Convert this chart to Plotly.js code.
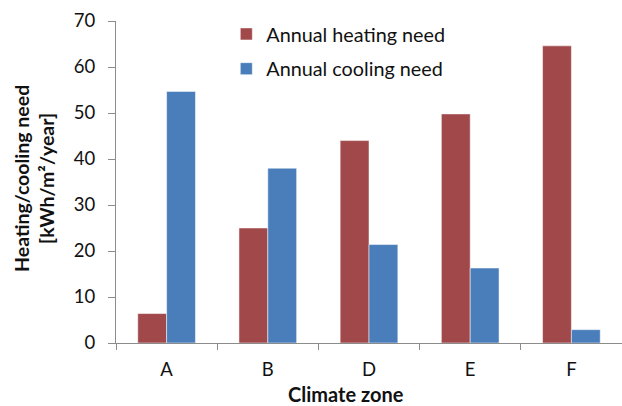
<!DOCTYPE html>
<html><head><meta charset="utf-8">
<script src="https://cdn.plot.ly/plotly-3.0.1.min.js"></script>
<style>html,body{margin:0;padding:0;background:#fff}#chart{width:622px;height:406px}</style>
</head><body><div id="chart"></div>
<script>
const zones = ["A", "B", "D", "E", "F"];
const heatingNeed = [6.4, 25.0, 44.0, 49.8, 64.6];
const coolingNeed = [54.7, 38.0, 21.4, 16.3, 2.9];
const yTicks = [0, 10, 20, 30, 40, 50, 60, 70];
const xTitle = "Climate zone";
const yTitle = "Heating/cooling need<br>[kWh/m²/year]";
const fontFam = "Lato, 'Open Sans', sans-serif";

const traces = [
  {type: "bar", x: zones, y: heatingNeed, name: "Annual heating need", legendgroup: "h",
   marker: {color: "#A0484A", line: {color: "#ffffff", width: 0.5}}, hoverinfo: "skip"},
  {type: "bar", x: zones, y: coolingNeed, name: "Annual cooling need", legendgroup: "c",
   marker: {color: "#4A7EBB", line: {color: "#ffffff", width: 0.5}}, hoverinfo: "skip"}
];
const layout = {
  width: 622, height: 406,
  margin: {l: 116, r: 0, t: 21, b: 63},
  paper_bgcolor: "#fff", plot_bgcolor: "#fff",
  barmode: "group", bargap: 0.43, bargroupgap: 0,
  font: {family: fontFam, color: "#111", size: 18},
  showlegend: true,
  legend: {x: 0.218, y: 1.02, xanchor: "left", yanchor: "top", bgcolor: "rgba(0,0,0,0)",
           font: {size: 19.8, color: "#111"}, traceorder: "grouped", tracegroupgap: 6},
  xaxis: {type: "category", showgrid: false, showline: true, linecolor: "#8c8c8c", linewidth: 1,
          ticks: "outside", tickson: "boundaries", ticklen: 6, tickcolor: "#8c8c8c",
          tickfont: {size: 18.5}, ticklabelstandoff: 10, zeroline: false},
  yaxis: {range: [0, 70], tickvals: yTicks, showgrid: false, showline: true, linecolor: "#8c8c8c",
          linewidth: 1, ticks: "outside", ticklen: 7, tickcolor: "#8c8c8c", zeroline: false,
          tickfont: {size: 18.5}, ticklabelstandoff: 9},
  annotations: [
    {text: "<b>" + xTitle + "</b>", xref: "paper", yref: "paper", x: 0.4545, y: -0.158,
     xanchor: "center", yanchor: "middle", showarrow: false, font: {size: 20, color: "#111"}},
    {text: "<b>" + yTitle + "</b>", xref: "paper", yref: "paper", x: -0.161, y: 0.511,
     xanchor: "center", yanchor: "middle", textangle: -90, showarrow: false,
     font: {size: 19.5, color: "#111"}}
  ]
};
Plotly.newPlot("chart", traces, layout, {displayModeBar: false, staticPlot: true});
</script></body></html>
